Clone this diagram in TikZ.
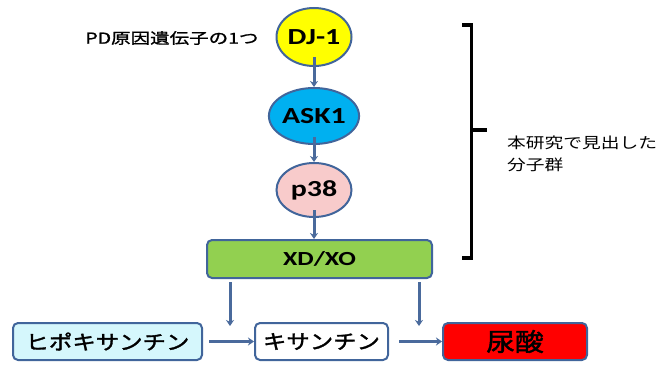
\documentclass[tikz,border=0pt]{standalone}
\usepackage{fontspec}
\setmainfont{Carlito}[FakeStretch=1.3]
\newfontfamily\jp{Noto Sans CJK JP}[FakeStretch=1.25]
\newfontfamily\jpb{Noto Sans CJK JP}[FakeBold=1.6,FakeStretch=1.17]
\newfontfamily\jpbb{Noto Sans CJK JP}[FakeBold=1.6,FakeStretch=1.15]
\newfontfamily\jpbs{Noto Sans CJK JP}[FakeBold=1.2,FakeStretch=1.3]
\usetikzlibrary{arrows.meta,shapes.geometric}
\definecolor{edgeblue}{HTML}{41659B}
\definecolor{arrowblue}{HTML}{4A6A9C}
\definecolor{djyellow}{HTML}{FFFF00}
\definecolor{askblue}{HTML}{00B0F0}
\definecolor{ppink}{HTML}{F8CBCB}
\definecolor{xdgreen}{HTML}{92D050}
\definecolor{hypocyan}{HTML}{D5F7FC}
\tikzset{
  mol/.style={ellipse, draw=edgeblue, line width=2pt, inner sep=0pt, font=\bfseries\fontsize{23}{25}\selectfont},
  bx/.style={rectangle, rounded corners=5pt, draw=edgeblue, line width=2pt, inner sep=0pt},
  arr/.style={draw=arrowblue, line width=3pt, -{Stealth[length=6pt,width=8pt]}},
  brk/.style={draw=black, line width=3.2pt, line cap=butt}
}
\begin{document}
\begin{tikzpicture}[x=1pt,y=-1pt]
\useasboundingbox (0,0) rectangle (661,372);
\node[mol, fill=djyellow, minimum width=75pt, minimum height=58pt] (dj) at (314,37) {DJ-1};
\node[mol, fill=askblue, minimum width=76pt, minimum height=56pt] (ask) at (314,116) {ASK1};
\node[mol, fill=ppink, minimum width=75pt, minimum height=54pt] (p38) at (314,190) {p38};
\node[bx, fill=xdgreen, minimum width=225pt, minimum height=38pt, font=\bfseries\fontsize{20}{22}\selectfont] (xd) at (319.5,259) {XD/XO};
\node[bx, fill=hypocyan, minimum width=189pt, minimum height=37pt, font=\jpb\fontsize{20}{22}\selectfont] (hx) at (107.5,341.5) {ヒポキサンチン};
\node[bx, fill=white, minimum width=133pt, minimum height=37pt, font=\jpb\fontsize{20}{22}\selectfont] (xa) at (321.5,341.5) {キサンチン};
\node[bx, fill=red, minimum width=144pt, minimum height=37pt, font=\jpbb\fontsize{25}{27}\selectfont] (ua) at (515,341.5) {尿酸};
\node[anchor=east, font=\jpbs\fontsize{15}{17}\selectfont] (pd) at (262,38) {PD原因遺伝子の1つ};
\node[anchor=north west, align=left, font=\jp\fontsize{15}{22}\selectfont, inner sep=0pt] (lab) at (507,136) {本研究で見出した\\分子群};
\draw[arr] (dj.south) ++(0,-10) -- (ask.north);
\draw[arr] (ask.south) ++(0,-8) -- (p38.north);
\draw[arr] (p38.south) ++(0,-8) -- (p38.south |- xd.north);
\coordinate (xl) at (230,282);
\coordinate (xr) at (419,282);
\coordinate (xlb) at (230,326);
\coordinate (xrb) at (419,326);
\draw[arr] (xl) -- (xlb);
\draw[arr] (xr) -- (xrb);
\draw[arr] (hx.east) ++(6,0) -- (xa.west);
\draw[arr] (xa.east) ++(10,0) -- (ua.west);
\coordinate (bt) at (462,25);
\coordinate (bb) at (462,258);
\coordinate (bm) at (487,130);
\draw[brk] (bt) -- (471.5,25) -- (471.5,258) -- (bb);
\draw[brk] (471.5,130) -- (bm);
\end{tikzpicture}
\end{document}
